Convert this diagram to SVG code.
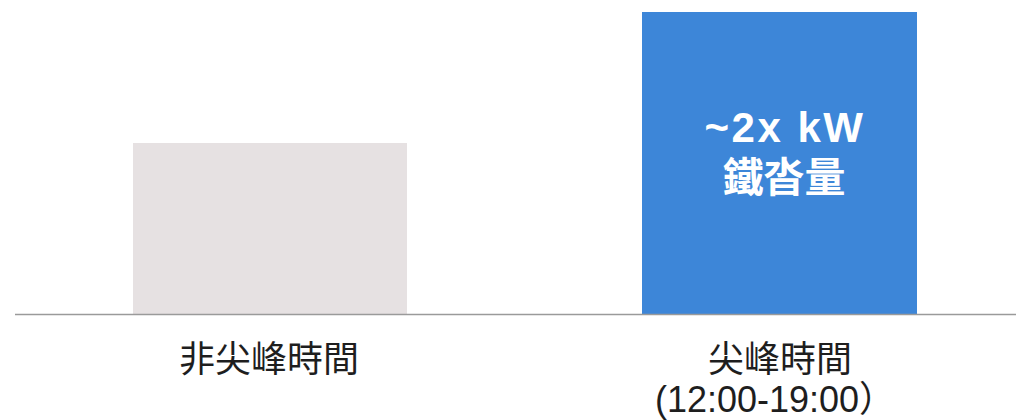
<svg xmlns="http://www.w3.org/2000/svg" width="1016" height="420" viewBox="0 0 1016 420">
<style>
.lbl{font-family:"Liberation Sans","Noto Sans CJK TC",sans-serif;font-size:36px;fill:#1e1e1e;text-anchor:middle}
.in{font-family:"Liberation Sans","Noto Sans CJK TC",sans-serif;font-weight:bold;fill:#ffffff;text-anchor:middle}
</style>
<rect width="1016" height="420" fill="#ffffff"/>
<g id="offpeak">
<rect x="133" y="143" width="274" height="171" fill="#e6e1e2"/>
<text class="lbl" x="269" y="372">非尖峰時間</text>
</g>
<g id="peak">
<rect x="642" y="12" width="275" height="302" fill="#3d86d8"/>
<text class="in" x="785" y="142" font-size="42" letter-spacing="2.5">~2x kW</text>
<text class="in" x="784" y="192" font-size="41">鐵沓量</text>
<text class="lbl" x="780" y="372">尖峰時間</text>
<text class="lbl" x="775" y="412" font-size="34">(12:00-19:00）</text>
</g>
<g id="connectors">
<line x1="15" y1="314.5" x2="1016" y2="314.5" stroke="#9a9a9a" stroke-width="1.5"/>
</g>
</svg>
